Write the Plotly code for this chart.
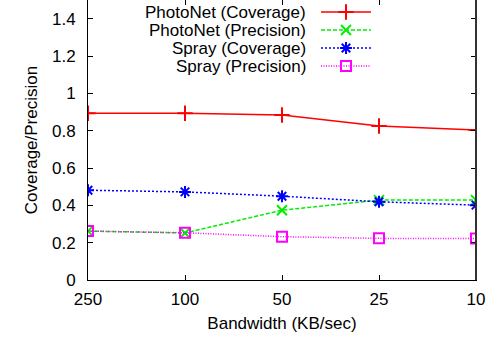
import plotly.graph_objects as go

bandwidth = ["250", "100", "50", "25", "10"]
photonet_coverage = [0.893, 0.893, 0.884, 0.825, 0.804]
photonet_precision = [0.262, 0.252, 0.374, 0.428, 0.428]
spray_coverage = [0.481, 0.472, 0.449, 0.419, 0.401]
spray_precision = [0.262, 0.253, 0.232, 0.223, 0.222]

series_names = ["PhotoNet (Coverage)", "PhotoNet (Precision)", "Spray (Coverage)", "Spray (Precision)"]
series_values = [photonet_coverage, photonet_precision, spray_coverage, spray_precision]
colors = ["#ff0000", "#00ee00", "#0000ff", "#ff00ff"]
dashes = ["solid", "4px,2px", "2px,2px", "1px,1.5px"]
symbols = ["cross-thin-open", "x-thin-open", "asterisk-open", "square-open"]
msizes = [11, 10, 10, 10]

FONT = "Liberation Sans, Arial, sans-serif"
fig = go.Figure()
xi = list(range(len(bandwidth)))
for name, vals, c, d, s, ms in zip(series_names, series_values, colors, dashes, symbols, msizes):
    fig.add_trace(go.Scatter(
        x=xi, y=vals, mode="lines+markers", name=name, showlegend=False,
        line=dict(color=c, width=1.5, dash=d),
        marker=dict(symbol=s, size=ms, color=c, line=dict(color=c, width=2)),
    ))

# custom gnuplot-style legend (text left, sample right) in pixel-like overlay coords
L, R, T, B = 88, 476, 0, 280
leg_y = [12, 30, 48, 66]
for name, c, d, s, ms, yy in zip(series_names, colors, dashes, symbols, msizes, leg_y):
    fig.add_trace(go.Scatter(
        x=[321, 371], y=[yy, yy], mode="lines", xaxis="x2", yaxis="y2", showlegend=False,
        line=dict(color=c, width=1.5, dash=d), hoverinfo="skip"))
    fig.add_trace(go.Scatter(
        x=[346], y=[yy], mode="markers", xaxis="x2", yaxis="y2", showlegend=False,
        marker=dict(symbol=s, size=ms, color=c, line=dict(color=c, width=2)), hoverinfo="skip"))
    fig.add_annotation(x=307, y=yy, xref="x2", yref="y2", text=name, showarrow=False,
                       xanchor="right", yanchor="middle", borderpad=0,
                       font=dict(family=FONT, size=17, color="black"))

fig.update_layout(
    width=487, height=341,
    margin=dict(l=L, r=487 - R, t=T, b=341 - B),
    paper_bgcolor="white", plot_bgcolor="white",
    font=dict(family=FONT, size=17, color="black"),
    xaxis=dict(range=[0, 4], tickmode="array", tickvals=xi, ticktext=bandwidth,
               showgrid=False, zeroline=False, showline=True, linecolor="black", linewidth=1,
               mirror="ticks", ticks="inside", ticklen=5, tickcolor="black",
               title=dict(text="Bandwidth (KB/sec)", standoff=8, font=dict(size=17)),
               ticklabelstandoff=4),
    yaxis=dict(range=[0, 1.5], tickmode="array", tickvals=[0, 0.2, 0.4, 0.6, 0.8, 1, 1.2, 1.4],
               ticktext=["0", "0.2", "0.4", "0.6", "0.8", "1", "1.2", "1.4"],
               showgrid=False, zeroline=False, showline=True, linecolor="black", linewidth=1,
               mirror="ticks", ticks="inside", ticklen=5, tickcolor="black",
               title=dict(text="Coverage/Precision", standoff=10, font=dict(size=17)),
               ticklabelstandoff=8),
    xaxis2=dict(range=[L, R], overlaying="x", visible=False, fixedrange=True),
    yaxis2=dict(range=[B, T], overlaying="y", visible=False, fixedrange=True),
)
fig.add_shape(type="line", xref="paper", yref="paper", x0=1, x1=1, y0=0, y1=1,
              line=dict(color="#333333", width=2))
fig.write_html("out.html")
